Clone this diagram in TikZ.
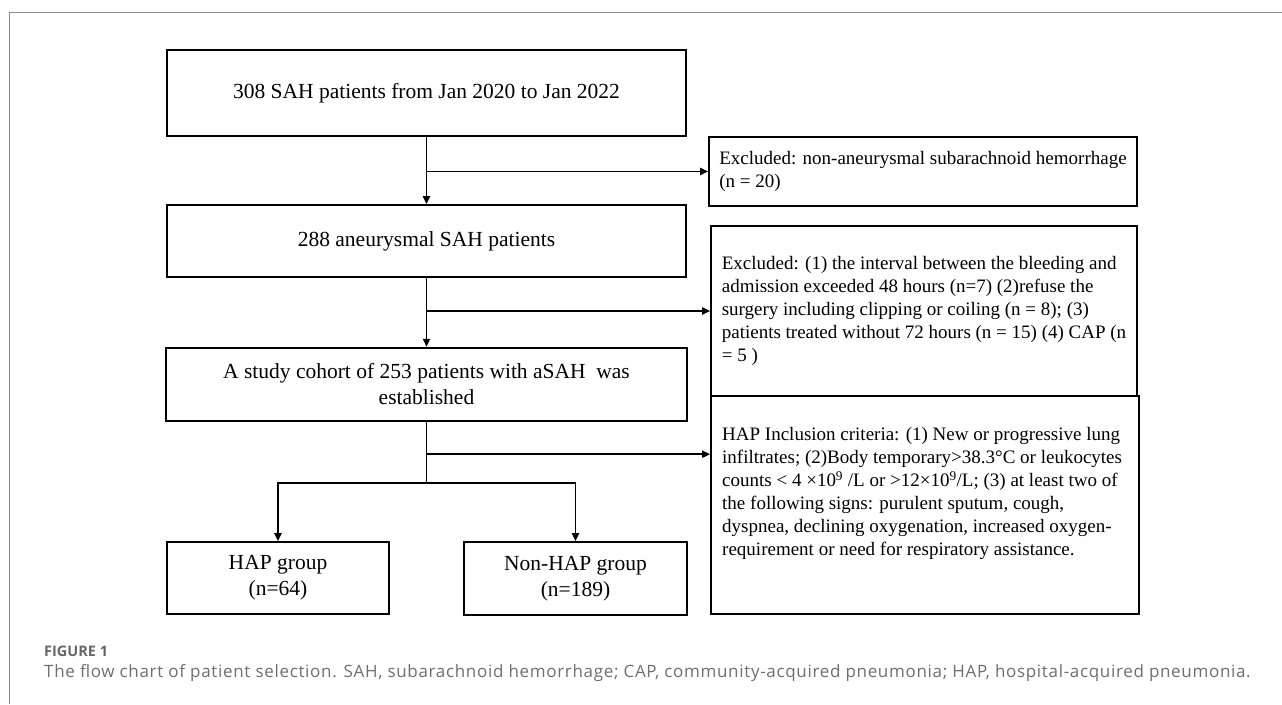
\documentclass[tikz,border=0pt]{standalone}
\usepackage{fontspec}
\setmainfont{Liberation Serif}
\newfontfamily\capfont[LetterSpace=4]{Open Sans}
\newfontfamily\figfont{Open Sans}
\usetikzlibrary{arrows.meta}
\definecolor{framegray}{HTML}{8C8C8C}
\definecolor{capgray}{HTML}{6E6E6E}
\definecolor{figgray}{HTML}{666666}
\tikzset{
  bigtext/.style={font=\fontsize{21.5}{26}\selectfont},
  smalltext/.style={font=\fontsize{19}{23}\selectfont},
  thickbox/.style={draw=black, line width=2.4pt, inner sep=0pt, bigtext, align=center},
  thinbox/.style={draw=black, line width=1.6pt, inner sep=0pt, bigtext, align=center},
  sidebox/.style={draw=black, line width=1.6pt, inner sep=0pt, smalltext, align=left},
  arr/.style={draw=black, line width=1.8pt, -{Triangle[length=8pt,width=7pt]}},
  link/.style={draw=black, line width=1.8pt},
}
\begin{document}
\begin{tikzpicture}[x=1pt,y=-1pt]
\useasboundingbox (0,0) rectangle (1282,704);
% frame
\draw[framegray, line width=1.3pt] (9.5,704) -- (9.5,12.5) -- (1282,12.5);
% main column
\node[thickbox, minimum width=519pt, minimum height=86pt] (b1) at (426.5,93)
  {308 SAH patients from Jan 2020 to Jan 2022};
\node[thinbox, minimum width=519pt, minimum height=72pt] (b2) at (426.5,241)
  {288 aneurysmal SAH patients};
\node[thickbox, minimum width=521pt, minimum height=73pt] (b3) at (426.5,384.5)
  {A study cohort of 253 patients with aSAH~ was\\established};
\node[thinbox, minimum width=222pt, minimum height=72pt] (hap) at (278,578)
  {HAP group\\(n=64)};
\node[thinbox, minimum width=223pt, minimum height=73pt] (nonhap) at (575.5,578.5)
  {Non-HAP group\\(n=189)};
% side boxes
\node[sidebox, minimum width=428pt, minimum height=69pt] (e1) at (923,171.5)
  {Excluded: non-aneurysmal subarachnoid hemorrhage\\(n = 20)};
\node[sidebox, minimum width=426pt, minimum height=170pt] (e2) at (924,311)
  {Excluded: (1) the interval between the bleeding and\\admission exceeded 48 hours (n=7) (2)refuse the\\surgery including clipping or coiling (n = 8); (3)\\patients treated without 72 hours (n = 15) (4) CAP (n\\= 5 )};
\node[draw=black, line width=1.6pt, minimum width=428pt, minimum height=218pt] (e3) at (925,505) {};
\node[smalltext, align=left, anchor=north west, inner sep=0pt] (e3t) at (722,427)
  {HAP Inclusion criteria: (1) New or progressive lung\\infiltrates; (2)Body temporary>38.3°C or leukocytes\\counts < 4 ×10\textsuperscript{9} /L or >12×10\textsuperscript{9}/L; (3) at least two of\\the following signs: purulent sputum, cough,\\dyspnea, declining oxygenation, increased oxygen-\\requirement or need for respiratory assistance.};
% connectors
\draw[arr] (b1.south) -- (b2.north);
\coordinate (j1) at (b1.south |- e1.west);
\draw[arr] (j1) -- (e1.west);
\draw[arr] (b2.south) -- (b3.north);
\coordinate (j2) at (b2.south |- e2.west);
\draw[arr] (j2) -- (e2.west);
\coordinate (j3) at ([yshift=-32pt]b3.south);
\coordinate (j4) at ([yshift=-61pt]b3.south);
\draw[link] (b3.south) -- (j4);
\draw[arr] (j3) -- (j3 -| e3.west);
\draw[arr] (j4) -| (hap.north);
\draw[arr] (j4) -| (nonhap.north);
% caption
\node[anchor=west, inner sep=0pt, text=figgray, font=\figfont\bfseries\fontsize{14.5}{17}\selectfont] (fig) at (44,651) {FIGURE 1};
\node[anchor=west, inner sep=0pt, text=capgray, font=\capfont\fontsize{17}{20}\selectfont] (cap) at (44,673)
  {The flow chart of patient selection. SAH, subarachnoid hemorrhage; CAP, community-acquired pneumonia; HAP, hospital-acquired pneumonia.};
\end{tikzpicture}
\end{document}
